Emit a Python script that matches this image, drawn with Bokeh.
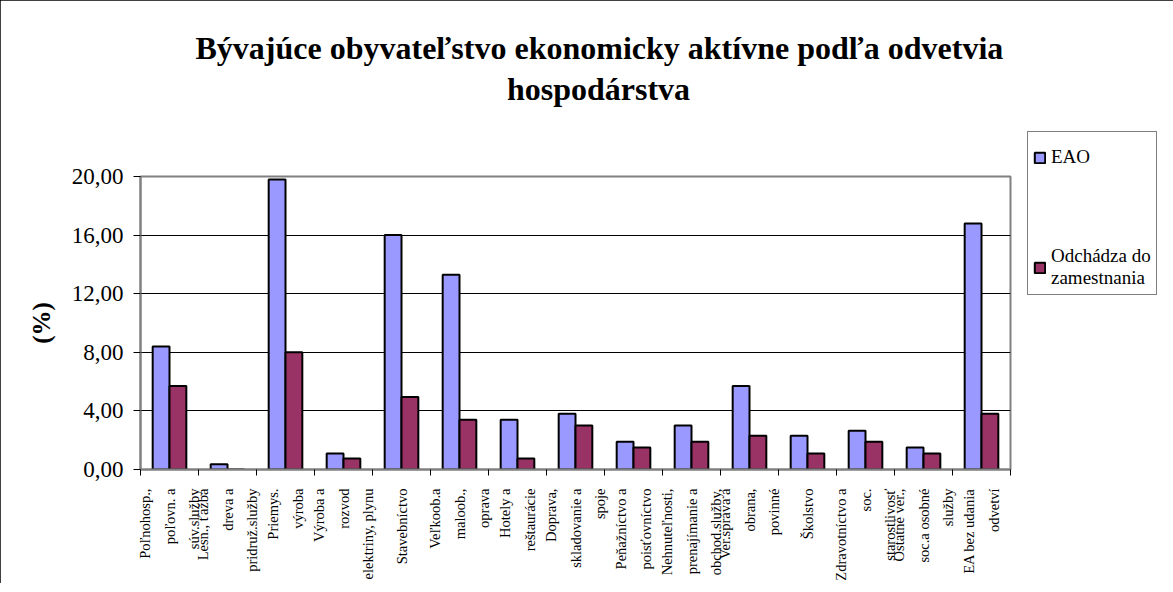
import math
from bokeh.plotting import figure
from bokeh.models import (Range1d, FixedTicker, Legend, LegendItem,
                          ColumnDataSource, Title, LinearAxis)
from bokeh.embed import file_html
from bokeh.resources import INLINE

# ---------------- data ----------------
title_lines = ["Bývajúce obyvateľstvo ekonomicky aktívne podľa odvetvia",
               "hospodárstva"]
category_lines = [
    ["Poľnohosp.,", "poľovn. a", "súv.služby"],
    ["Lesn., ťažba", "dreva a", "pridruž.služby"],
    ["Priemys.", "výroba"],
    ["Výroba a", "rozvod", "elektriny, plynu"],
    ["Stavebníctvo"],
    ["Veľkoob.a", "maloob.,", "oprava"],
    ["Hotely a", "reštaurácie"],
    ["Doprava,", "skladovanie a", "spoje"],
    ["Peňažníctvo a", "poisťovníctvo"],
    ["Nehnuteľnosti,", "prenajímanie a", "obchod.služby,"],
    ["Ver.správa a", "obrana,", "povinné"],
    ["Školstvo"],
    ["Zdravotníctvo a", "soc.", "starostlivosť"],
    ["Ostatné ver.,", "soc.a osobné", "služby"],
    ["EA bez udania", "odvetví"],
]
series_names = ["EAO", "Odchádza do\nzamestnania"]
eao = [8.4, 0.35, 19.8, 1.1, 16.0, 13.3, 3.4, 3.8, 1.9, 3.0, 5.7, 2.3, 2.65, 1.5, 16.8]
odch = [5.7, 0.0, 8.0, 0.75, 4.95, 3.4, 0.75, 3.0, 1.5, 1.9, 2.3, 1.1, 1.9, 1.1, 3.8]
y_ticks = [0, 4, 8, 12, 16, 20]
y_tick_labels = ["0,00", "4,00", "8,00", "12,00", "16,00", "20,00"]
y_label = "(%)"

# ---------------- figure ----------------
SERIF = "Liberation Serif"
n = len(category_lines)
FW, FH = 870, 293
BL, BR, BT, BB = 140, 147, 176, 107
TITLE_CX = 598          # horizontal centre of the title, px on the canvas

p = figure(frame_width=FW, frame_height=FH,
           min_border_left=BL, min_border_right=BR,
           min_border_top=BT, min_border_bottom=BB,
           x_range=Range1d(0, n), y_range=Range1d(0, y_ticks[-1]),
           output_backend="svg", toolbar_location=None)
p.background_fill_color = "white"
p.border_fill_color = "white"
p.outline_line_color = "#808080"
p.outline_line_width = 2
p.styles = {"outline": "1px solid black", "outline-offset": "-1px"}

xa = p.below[0]   # category axis
ya = p.left[0]    # value axis

# second title line: drawn as the single label of a bare axis above the frame
title_x = (TITLE_CX - BL) / FW * n
t2 = LinearAxis(ticker=FixedTicker(ticks=[title_x]),
                major_label_overrides={title_x: title_lines[1]},
                major_tick_out=0, major_tick_in=0,
                minor_tick_out=0, minor_tick_in=0,
                major_tick_line_color=None, minor_tick_line_color=None,
                axis_line_color=None, major_label_standoff=70,
                major_label_text_font=SERIF, major_label_text_font_style="bold",
                major_label_text_font_size="32px",
                major_label_text_color="black")
p.add_layout(t2, "above")

# first title line
p.title = Title(text=title_lines[0], align="left", offset=55, standoff=4,
                text_font=SERIF, text_font_style="bold",
                text_font_size="32px", text_color="black")

p.xgrid.visible = False
p.ygrid.grid_line_color = "black"
p.ygrid.grid_line_width = 1
p.ygrid.ticker = FixedTicker(ticks=y_ticks)

# y axis
ya.ticker = FixedTicker(ticks=y_ticks)
ya.major_label_overrides = {t: s for t, s in zip(y_ticks, y_tick_labels)}
ya.major_label_text_font = SERIF
ya.major_label_text_font_size = "23px"
ya.major_label_text_color = "black"
ya.major_tick_in = 0
ya.major_tick_out = 7
ya.major_tick_line_color = "black"
ya.minor_tick_line_color = None
ya.axis_line_color = "#808080"
ya.axis_line_width = 2
ya.major_label_standoff = 10
ya.axis_label = y_label
ya.axis_label_text_font = SERIF
ya.axis_label_text_font_style = "bold"
ya.axis_label_text_font_size = "25px"
ya.axis_label_text_color = "black"
ya.axis_label_standoff = 14

# x axis: labels at category centres, tick marks (minor) at boundaries
centres = [i + 0.5 for i in range(n)]
xa.ticker = FixedTicker(ticks=centres, minor_ticks=list(range(n + 1)))
xa.major_label_overrides = {c: "\n".join(lines) for c, lines in zip(centres, category_lines)}
xa.major_label_orientation = math.pi / 2
xa.major_label_text_font = SERIF
xa.major_label_text_font_size = "14.5px"
xa.major_label_text_color = "black"
xa.major_label_text_line_height = 1.55
xa.major_label_standoff = 13
xa.major_tick_in = 0
xa.major_tick_out = 0
xa.major_tick_line_color = None
xa.minor_tick_in = 0
xa.minor_tick_out = 6
xa.minor_tick_line_color = "black"
xa.axis_line_color = "#808080"
xa.axis_line_width = 2

# bars
src = ColumnDataSource(dict(
    x_eao=[i + 0.355 for i in range(n)],
    x_odch=[i + 0.645 for i in range(n)],
    eao=eao, odch=odch))
r1 = p.vbar(x="x_eao", top="eao", bottom=0, width=0.29, source=src,
            fill_color="#9999FF", line_color="black", line_width=2)
r2 = p.vbar(x="x_odch", top="odch", bottom=0, width=0.29, source=src,
            fill_color="#993366", line_color="black", line_width=2)

# legend in the right panel
legend = Legend(items=[LegendItem(label=series_names[0], renderers=[r1]),
                       LegendItem(label=series_names[1], renderers=[r2])],
                location=(17, 174))
legend.border_line_color = "black"
legend.border_line_width = 1
legend.background_fill_color = "white"
legend.background_fill_alpha = 1
legend.label_text_font = SERIF
legend.label_text_font_size = "19px"
legend.label_text_color = "black"
legend.label_text_line_height = 1.3
legend.glyph_width = 13
legend.glyph_height = 13
legend.label_standoff = 5
legend.padding = 5
legend.spacing = 68
legend.margin = 0
legend.label_height = 40
p.add_layout(legend, "right")

open("out.html", "w").write(file_html(p, INLINE))
